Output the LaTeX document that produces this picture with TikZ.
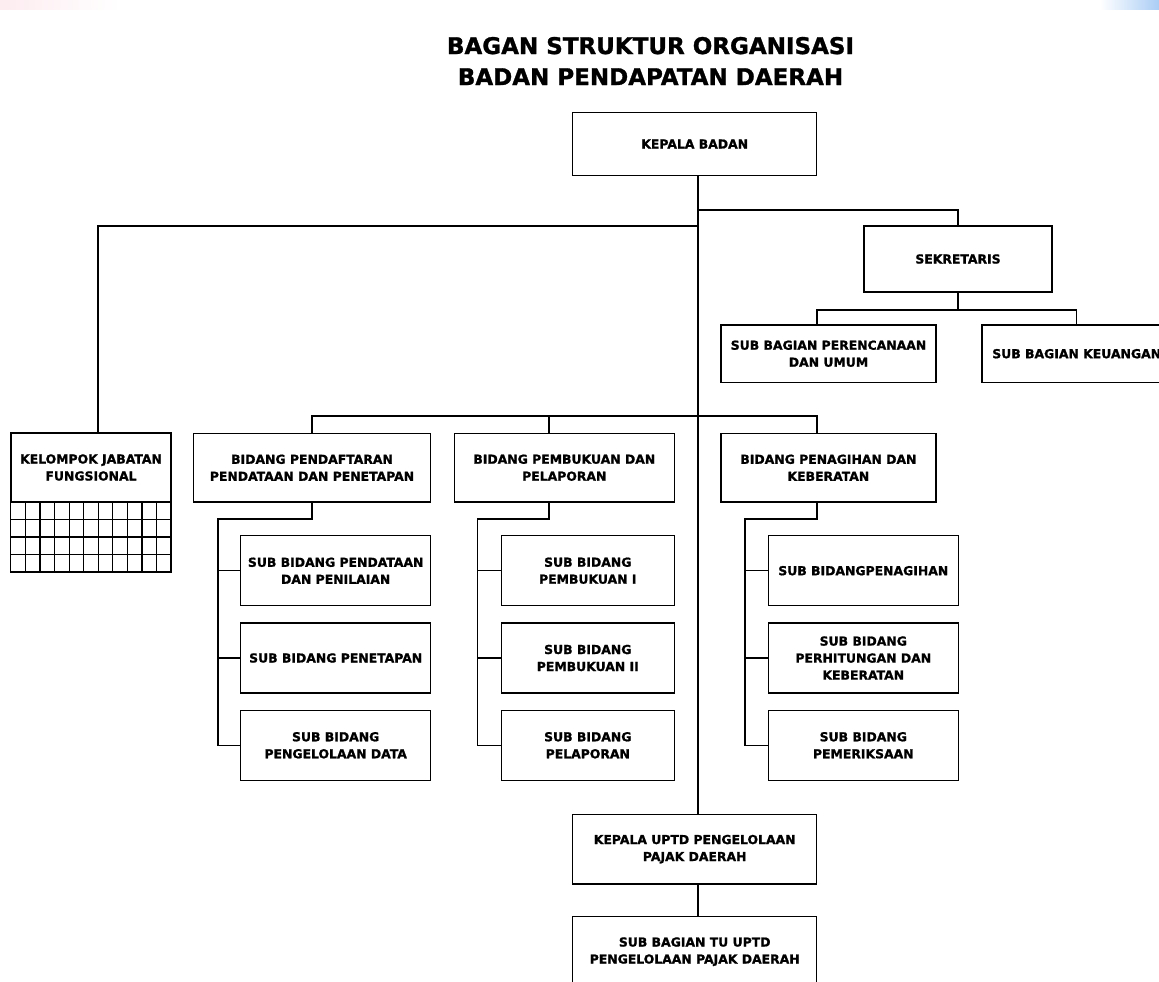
\documentclass[tikz,border=0pt]{standalone}
\usepackage{fontspec}
\setmainfont{DejaVu Sans}[BoldFeatures={FakeBold=1.2}]
\definecolor{cornerblue}{RGB}{170,205,245}
\definecolor{cornerpink}{RGB}{253,236,240}
\begin{document}
\begin{tikzpicture}[x=1pt,y=-1pt,
  box/.style={draw=black, line width=1.5pt, fill=white, align=center, inner sep=0pt,
    font=\fontsize{12.4}{17}\selectfont\bfseries},
  conn/.style={draw=black, line width=1.5pt},
  gridline/.style={draw=black, line width=1.2pt},
  titlefont/.style={font=\fontsize{23}{31}\selectfont\bfseries, align=center}]
\useasboundingbox (0,0) rectangle (1159,982);
\clip (0,0) rectangle (1159,982);
\fill[white] (0,0) rectangle (1159,982);
\shade[left color=cornerpink, right color=white] (0,0) rectangle (120,10);
\shade[left color=white, right color=cornerblue] (1100,0) rectangle (1159,10);

% title
\node[titlefont] (title) at (650.5,61) {BAGAN STRUKTUR ORGANISASI\\BADAN PENDAPATAN DAERAH};

% boxes
\node[box, minimum width=244pt, minimum height=63pt] (kb) at (694.7,144) {KEPALA BADAN};
\node[box, minimum width=188pt, minimum height=66pt] (sek) at (958,259) {SEKRETARIS};
\node[box, minimum width=215pt, minimum height=57.5pt] (sbp) at (828.5,353.7) {SUB BAGIAN PERENCANAAN\\DAN UMUM};
\node[box, minimum width=189pt, minimum height=57.5pt] (sbk) at (1076.7,353.7) {SUB BAGIAN KEUANGAN};

\node[box, minimum width=160pt, minimum height=69pt] (kel) at (91,467.5) {KELOMPOK JABATAN\\FUNGSIONAL};
\node[box, minimum width=237.4pt, minimum height=68.5pt] (b1) at (312,467.7) {BIDANG PENDAFTARAN\\PENDATAAN DAN PENETAPAN};
\node[box, minimum width=220pt, minimum height=68.5pt] (b2) at (564.3,467.7) {BIDANG PEMBUKUAN DAN\\PELAPORAN};
\node[box, minimum width=214.7pt, minimum height=68.5pt] (b3) at (828.4,467.7) {BIDANG PENAGIHAN DAN\\KEBERATAN};

\node[box, minimum width=190pt, minimum height=70pt] (sb11) at (335.7,570.7) {SUB BIDANG PENDATAAN\\DAN PENILAIAN};
\node[box, minimum width=190pt, minimum height=70pt] (sb12) at (335.7,658) {SUB BIDANG PENETAPAN};
\node[box, minimum width=190pt, minimum height=70pt] (sb13) at (335.7,745.3) {SUB BIDANG\\PENGELOLAAN DATA};

\node[box, minimum width=173pt, minimum height=70pt] (sb21) at (587.8,570.7) {SUB BIDANG\\PEMBUKUAN I};
\node[box, minimum width=173pt, minimum height=70pt] (sb22) at (587.8,658) {SUB BIDANG\\PEMBUKUAN II};
\node[box, minimum width=173pt, minimum height=70pt] (sb23) at (587.8,745.3) {SUB BIDANG\\PELAPORAN};

\node[box, minimum width=190pt, minimum height=70pt] (sb31) at (863.3,570.7) {SUB BIDANGPENAGIHAN};
\node[box, minimum width=190pt, minimum height=70pt] (sb32) at (863.3,658) {SUB BIDANG\\PERHITUNGAN DAN\\KEBERATAN};
\node[box, minimum width=190pt, minimum height=70pt] (sb33) at (863.3,745.3) {SUB BIDANG\\PEMERIKSAAN};

\node[box, minimum width=244pt, minimum height=69.7pt] (uptd) at (694.7,849.2) {KEPALA UPTD PENGELOLAAN\\PAJAK DAERAH};
\node[box, minimum width=244pt, minimum height=70pt] (tu) at (694.7,951.7) {SUB BAGIAN TU UPTD\\PENGELOLAAN PAJAK DAERAH};

% grid under kelompok jabatan fungsional
\draw[gridline] (kel.south west) rectangle (171,572);
\foreach \i in {1,...,10} {\draw[gridline] (11+\i*14.5455,502) -- (11+\i*14.5455,572);}
\foreach \j in {1,2,3} {\draw[gridline] (11,502+\j*17.5) -- (171,502+\j*17.5);}

% helper coordinates
\coordinate (sp) at (698,0);
\coordinate (xk) at (98,0);
\coordinate (xa) at (817,0);
\coordinate (xb2) at (549,0);
\coordinate (x1) at (218,0);
\coordinate (x2) at (477.3,0);
\coordinate (x3) at (745,0);
\coordinate (js) at (698,210);
\coordinate (jk) at (698,226);
\coordinate (jb) at (698,416);

% connectors
\draw[conn] (kb.south -| sp) -- (uptd.north -| sp);
\draw[conn] (js) -| (sek.north);
\draw[conn] (jk) -| (kel.north -| xk);
\draw[conn] (sek.south) -- ++(0,17) coordinate (jss);
\draw[conn] (sbp.north -| xa) |- (jss) -| (sbk.north);
\draw[conn] (b1.north) |- (jb) -| (b3.north -| xa);
\draw[conn] (b2.north -| xb2) -- (xb2 |- jb);

\draw[conn] (b1.south) -- ++(0,16.5) -| (x1 |- sb13.west) -- (sb13.west);
\draw[conn] (x1 |- sb11.west) -- (sb11.west);
\draw[conn] (x1 |- sb12.west) -- (sb12.west);

\draw[conn] (b2.south -| xb2) -- ++(0,16.5) -| (x2 |- sb23.west) -- (sb23.west);
\draw[conn] (x2 |- sb21.west) -- (sb21.west);
\draw[conn] (x2 |- sb22.west) -- (sb22.west);

\draw[conn] (b3.south -| xa) -- ++(0,16.5) -| (x3 |- sb33.west) -- (sb33.west);
\draw[conn] (x3 |- sb31.west) -- (sb31.west);
\draw[conn] (x3 |- sb32.west) -- (sb32.west);

\draw[conn] (uptd.south -| sp) -- (tu.north -| sp);
\end{tikzpicture}
\end{document}
